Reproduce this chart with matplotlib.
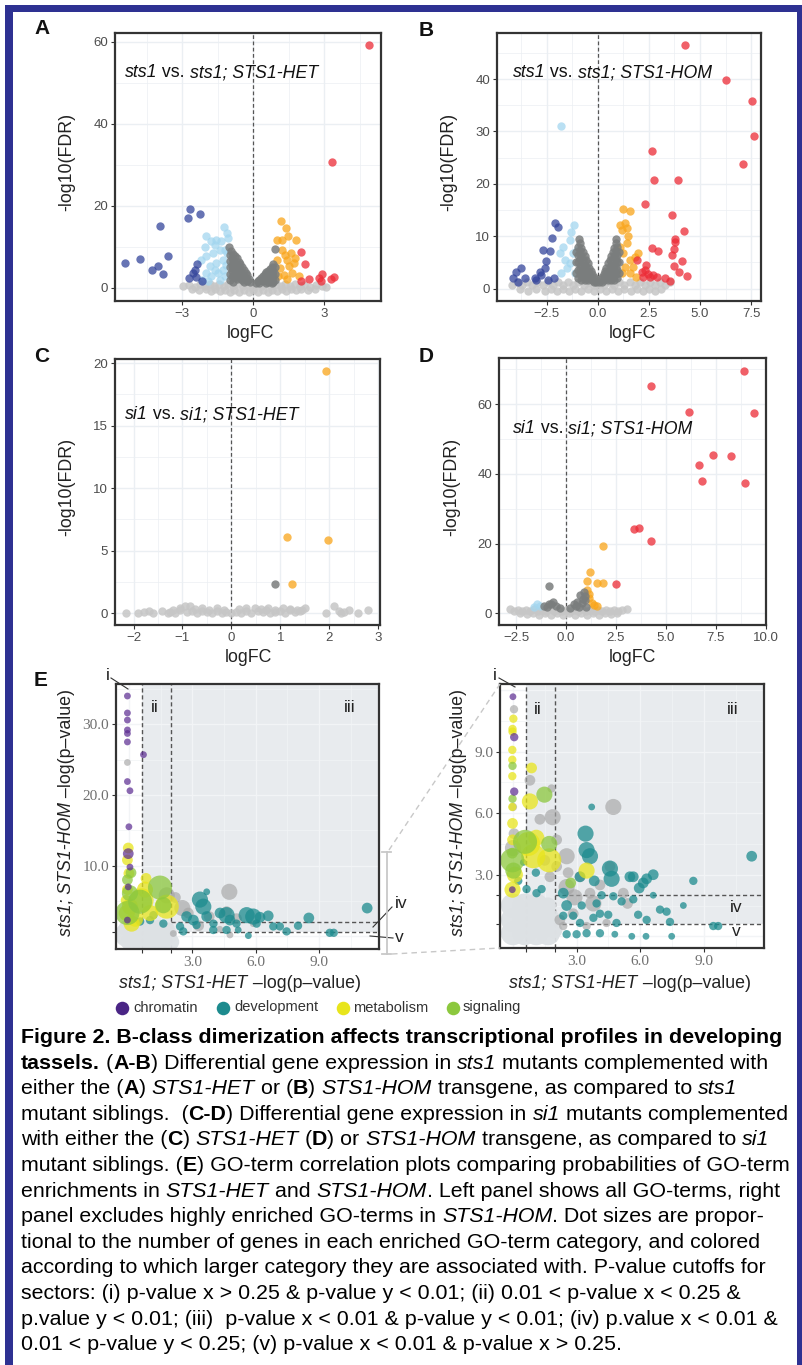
import matplotlib
matplotlib.use("Agg")
import matplotlib.pyplot as plt
from matplotlib.patches import Rectangle

W, H = 803, 1365
SANS = "Liberation Sans"
SERIF = "Liberation Serif"
plt.rcParams["font.family"] = [SANS, "DejaVu Sans"]

# ---------------- volcano data (logFC, -log10 FDR) ----------------
A_LTGRAY = [(-2.95, 0.4), (-2.7, 0.8), (-2.45, 0.3), (-2.25, 0.9), (-2.05, 0.5), (-1.85, 1.0),
            (-1.65, 0.4), (-1.45, 0.9), (-1.25, 0.5), (-1.05, 1.0), (-0.85, 0.4), (-0.65, 0.9),
            (-0.45, 0.5), (-0.25, 0.8), (-0.05, 0.3), (0.15, 0.7), (0.35, 0.4), (0.55, 0.9),
            (0.75, 0.5), (0.95, 1.0), (1.15, 0.4), (1.35, 0.9), (1.55, 0.5), (1.75, 1.0), (1.95, 0.4),
            (2.15, 0.8), (2.4, 0.3), (2.65, 0.7), (2.9, 0.4), (3.05, 0.2),
            (-2.6, -0.3), (-2.3, -0.5), (-2.0, -0.2), (-1.8, -0.7), (-1.6, -0.3), (-1.4, -0.8),
            (-1.2, -0.4), (-1.0, -0.9), (-0.8, -0.5), (-0.6, -1.0), (-0.4, -0.5), (-0.2, -1.0),
            (0.0, -0.6), (0.2, -1.0), (0.4, -0.5), (0.6, -0.9), (0.8, -0.4), (1.0, -0.8), (1.2, -0.3),
            (1.4, -0.7), (1.6, -0.3), (1.8, -0.6), (2.0, -0.2), (2.3, -0.4), (2.6, -0.2)]
A_DKGRAY = [(-1.02, 9.9), (-1.0, 8.0), (-1.0, 6.5), (-1.0, 5.0), (-1.0, 3.5), (-1.0, 2.0), (-0.85, 8.3),
            (-0.85, 6.5), (-0.85, 4.8), (-0.85, 3.0), (-0.85, 1.5), (-0.7, 7.4), (-0.7, 5.6), (-0.7, 3.8),
            (-0.7, 2.2), (-0.55, 5.9), (-0.55, 4.2), (-0.55, 2.4), (-0.4, 4.5), (-0.4, 2.9), (-0.4, 1.4),
            (-0.25, 3.2), (-0.25, 1.6), (-0.12, 1.4), (-0.95, 9.0), (-0.92, 7.2), (-0.92, 5.7),
            (-0.92, 4.2), (-0.92, 2.7), (-0.78, 7.9), (-0.78, 6.0), (-0.78, 4.3), (-0.78, 2.6),
            (-0.62, 6.4), (-0.62, 4.6), (-0.62, 3.0), (-0.48, 5.0), (-0.48, 3.3), (-0.48, 1.9),
            (-0.32, 3.7), (-0.32, 2.2), (-0.18, 2.3),
            (0.12, 1.2), (0.25, 2.0), (0.25, 1.2), (0.4, 3.0), (0.4, 1.6), (0.55, 3.8), (0.55, 2.4),
            (0.55, 1.2), (0.7, 4.6), (0.7, 3.2), (0.7, 1.8), (0.85, 5.8), (0.85, 4.2), (0.85, 2.8),
            (0.85, 1.4), (0.92, 9.5), (0.18, 1.6), (0.32, 2.5), (0.48, 3.4), (0.48, 2.0), (0.62, 4.2),
            (0.62, 2.8), (0.78, 5.2), (0.78, 3.6), (0.78, 2.2), (0.9, 5.0), (0.9, 3.5), (0.9, 2.0),
            (0.62, 1.5), (0.78, 1.3)]
A_LTBLUE = [(-1.99, 12.7), (-1.77, 11.4), (-1.56, 11.8), (-1.23, 14.8), (-1.13, 13.4), (-1.06, 12.2),
            (-1.99, 7.7), (-1.70, 8.5), (-1.42, 9.3), (-1.84, 5.3), (-1.56, 6.1), (-1.28, 6.9),
            (-1.77, 2.8), (-1.49, 3.6), (-1.28, 4.5), (-1.99, 3.6), (-2.20, 6.9), (-1.42, 2.0),
            (-1.13, 8.5), (-1.63, 10.5), (-2.06, 10.1), (-1.35, 11.4), (-1.18, 9.3), (-1.2, 3.0),
            (-1.6, 4.5), (-1.9, 1.8), (-2.15, 2.0), (-1.15, 5.5)]
A_DKBLUE = [(-5.42, 6.1), (-4.79, 7.1), (-4.28, 4.3), (-4.04, 5.3), (-3.80, 3.5), (-3.60, 7.7),
            (-3.93, 15.2), (-2.67, 19.2), (-2.74, 17.0), (-2.27, 18.1), (-2.37, 5.8), (-2.45, 4.5),
            (-2.72, 2.4), (-2.41, 2.7), (-2.16, 1.6), (-2.55, 3.6)]
A_ORANGE = [(1.18, 16.2), (1.38, 14.6), (0.99, 11.8), (1.2, 11.8), (1.46, 12.7), (1.79, 11.6),
            (1.59, 8.5), (1.2, 9.3), (0.99, 6.9), (1.42, 6.9), (1.77, 7.3), (1.13, 4.9), (1.49, 5.3),
            (1.28, 3.2), (1.63, 3.6), (1.91, 2.8), (1.06, 2.8), (1.42, 2.2), (1.70, 6.1), (1.35, 8.1)]
A_RED = [(2.03, 8.8), (2.2, 5.8), (2.34, 2.3), (2.03, 1.6), (2.77, 2.4), (2.88, 3.3), (3.26, 2.2),
         (3.42, 2.6), (3.33, 30.8), (4.89, 59.2), (2.84, 1.6)]

B_LTGRAY = [(-4.2, 0.6), (-3.95, 1.2), (-3.7, 0.6), (-3.45, 1.2), (-3.2, 0.6), (-2.95, 1.2),
            (-2.7, 0.6), (-2.45, 1.2), (-2.2, 0.6), (-1.95, 1.2), (-1.7, 0.6), (-1.45, 1.2),
            (-1.2, 0.6), (-0.95, 1.2), (-0.7, 0.6), (-0.45, 1.2), (-0.2, 0.6), (0.05, 0.9),
            (0.3, 0.6), (0.55, 1.2), (0.8, 0.6), (1.05, 1.2), (1.3, 0.6), (1.55, 1.2), (1.8, 0.6),
            (2.05, 1.2), (2.3, 0.6), (2.55, 1.2), (2.8, 0.6), (3.05, 1.2), (3.3, 0.6), (3.55, 1.2),
            (-3.8, -0.1), (-3.4, -0.5), (-3.0, -0.1), (-2.6, -0.5), (-2.3, -0.1), (-2.0, -0.5),
            (-1.7, -0.1), (-1.4, -0.5), (-1.1, -0.1), (-0.8, -0.5), (-0.5, -0.1), (-0.2, -0.5),
            (0.1, -0.1), (0.4, -0.5), (0.7, -0.1), (1.0, -0.5), (1.3, -0.1), (1.6, -0.5), (1.9, -0.1),
            (2.2, -0.5), (2.5, -0.1), (2.8, -0.5), (3.1, -0.1)]
B_DKGRAY = [(-0.93, 9.5), (-0.95, 8.0), (-0.95, 6.5), (-0.95, 5.0), (-0.95, 3.5), (-0.95, 2.0),
            (-1.05, 7.0), (-1.05, 5.0), (-1.05, 3.0), (-0.8, 7.8), (-0.8, 6.2), (-0.8, 4.6),
            (-0.8, 3.0), (-0.8, 1.6), (-0.65, 6.2), (-0.65, 4.6), (-0.65, 3.0), (-0.65, 1.6),
            (-0.5, 4.8), (-0.5, 3.2), (-0.5, 1.6), (-0.35, 3.4), (-0.35, 2.0), (-0.2, 2.2),
            (-0.2, 1.2), (-0.08, 1.2), (-0.88, 8.7), (-0.88, 7.2), (-0.88, 5.7), (-0.88, 4.2),
            (-0.88, 2.7), (-0.72, 7.0), (-0.72, 5.4), (-0.72, 3.8), (-0.72, 2.3), (-0.58, 5.5),
            (-0.58, 3.9), (-0.58, 2.3), (-0.42, 4.0), (-0.42, 2.6), (-0.28, 2.8), (-0.28, 1.6),
            (-0.14, 1.8),
            (0.91, 9.5), (0.95, 8.0), (0.95, 6.5), (0.95, 5.0), (0.95, 3.5), (0.95, 2.0), (1.05, 7.0),
            (1.05, 5.0), (1.05, 3.0), (0.8, 7.8), (0.8, 6.2), (0.8, 4.6), (0.8, 3.0), (0.8, 1.6),
            (0.65, 6.2), (0.65, 4.6), (0.65, 3.0), (0.65, 1.6), (0.5, 4.8), (0.5, 3.2), (0.5, 1.6),
            (0.35, 3.4), (0.35, 2.0), (0.2, 2.2), (0.2, 1.2), (0.08, 1.2), (0.88, 8.7), (0.88, 7.2),
            (0.88, 5.7), (0.88, 4.2), (0.88, 2.7), (0.72, 7.0), (0.72, 5.4), (0.72, 3.8), (0.72, 2.3),
            (0.58, 5.5), (0.58, 3.9), (0.58, 2.3), (0.42, 4.0), (0.42, 2.6), (0.28, 2.8), (0.28, 1.6),
            (0.14, 1.8)]
B_LTBLUE = [(-1.78, 31.1), (-1.16, 12.1), (-1.29, 10.9), (-1.37, 9.3), (-1.86, 6.8), (-1.62, 5.5),
            (-1.53, 3.9), (-1.78, 2.9), (-1.21, 6.8), (-1.37, 4.8), (-1.13, 2.9), (-1.70, 8.0),
            (-1.04, 7.4)]
B_DKBLUE = [(-4.14, 2.0), (-3.98, 3.2), (-3.74, 3.9), (-3.57, 2.1), (-3.90, 1.3), (-3.08, 2.1),
            (-2.84, 3.1), (-2.68, 7.4), (-2.35, 7.2), (-2.51, 5.2), (-2.59, 3.9), (-2.76, 2.6),
            (-2.25, 9.6), (-2.10, 12.5), (-1.94, 11.8), (-2.15, 2.1), (-2.43, 1.7), (-3.0, 1.7)]
B_ORANGE = [(1.21, 15.2), (1.57, 14.9), (1.08, 12.2), (1.32, 12.5), (1.45, 11.5), (1.16, 11.2),
            (1.48, 10.1), (1.44, 8.7), (1.97, 6.8), (1.81, 6.0), (1.57, 5.5), (1.73, 4.2), (1.32, 4.2),
            (1.16, 2.9), (1.57, 2.9), (1.89, 2.3), (1.24, 6.8), (1.08, 8.0)]
B_RED = [(4.26, 46.6), (6.25, 39.9), (7.52, 35.8), (7.63, 29.2), (7.11, 23.8), (2.66, 26.2),
         (2.74, 20.8), (3.90, 20.8), (2.33, 16.1), (3.65, 14.1), (4.23, 11.0), (3.78, 9.5),
         (3.78, 8.9), (3.72, 7.5), (2.66, 7.8), (2.95, 7.2), (3.61, 6.4), (4.11, 5.2), (3.72, 4.4),
         (3.98, 3.1), (4.37, 2.4), (3.28, 2.1), (3.52, 1.5), (2.38, 4.5), (2.30, 3.6), (2.46, 2.8),
         (2.71, 2.6), (2.14, 3.2), (1.93, 5.5), (2.22, 2.3), (2.54, 2.3), (2.87, 2.3)]

C_LTGRAY = [(-2.16, 0.0), (-1.9, 0.05), (-1.78, 0.1), (-1.68, 0.2), (-1.6, 0.05), (-1.42, 0.2),
            (-1.3, 0.0), (-1.25, 0.1), (-1.15, 0.0), (-1.05, 0.3), (-0.95, 0.6), (-0.85, 0.6),
            (-0.9, 0.1), (-0.8, 0.15), (-0.7, 0.05), (-0.6, 0.2), (-0.5, 0.1), (-0.4, 0.05),
            (-0.3, 0.15), (-0.2, 0.05), (-0.1, 0.1), (0.0, 0.05), (0.1, 0.1), (0.2, 0.05), (0.3, 0.15),
            (0.4, 0.05), (0.48, 0.4), (0.55, 0.2), (0.65, 0.1), (0.7, 0.3), (0.8, 0.05), (0.9, 0.1),
            (1.0, 0.2), (1.1, 0.05), (1.2, 0.3), (1.3, 0.1), (1.4, 0.2), (1.45, 0.25), (1.93, 0.0),
            (2.1, 0.55), (2.2, 0.2), (2.25, 0.0), (2.3, 0.1), (2.4, 0.3), (2.6, 0.0), (2.8, 0.3),
            (-1.2, 0.3), (-1.05, 0.4), (-0.75, 0.35), (-0.6, 0.4), (-0.45, 0.3), (-0.3, 0.4),
            (-0.15, 0.3), (0.15, 0.35), (0.3, 0.4), (0.6, 0.35), (0.75, 0.4), (0.9, 0.3), (1.05, 0.4),
            (1.2, 0.35), (1.35, 0.3), (1.5, 0.4)]
C_DKGRAY = [(0.90, 2.35)]
C_ORANGE = [(1.94, 19.4), (1.13, 6.08), (1.97, 5.87), (1.25, 2.35)]

D_LTGRAY = [(-2.78, 1.1), (-2.6, 0.7), (-2.4, 1.0), (-2.2, 0.6), (-2.0, 1.0), (-1.8, 0.6), (-1.6, 1.1),
            (-1.4, 0.6), (-1.2, 1.0), (-1.0, 0.6), (-0.8, 1.1), (-0.6, 0.6), (-0.4, 1.0), (-0.2, 0.6),
            (0.0, 0.9), (0.2, 0.6), (0.4, 1.0), (0.6, 0.6), (0.8, 1.1), (1.0, 0.6), (1.2, 1.0),
            (1.4, 0.6), (1.6, 1.0), (1.8, 0.6), (2.0, 1.0), (2.2, 0.6), (2.4, 1.0), (2.6, 0.6),
            (2.8, 0.9), (3.05, 1.1),
            (-2.28, 0.0), (-1.95, -0.3), (-1.65, 0.0), (-1.35, -0.4), (-1.05, 0.0), (-0.75, -0.4),
            (-0.45, 0.0), (-0.15, -0.5), (0.15, 0.0), (0.45, -0.5), (0.75, 0.0), (1.05, -0.4),
            (1.35, 0.0), (1.65, -0.4), (1.95, 0.0), (2.25, -0.3), (2.55, 0.0)]
D_DKGRAY = [(-0.85, 7.9), (-0.65, 3.3), (-0.87, 2.6), (-1.12, 2.1), (-0.5, 2.0), (-0.3, 1.5),
            (0.88, 6.2), (0.72, 5.3), (0.55, 3.3), (0.38, 2.6), (0.97, 3.8), (0.8, 2.9), (0.2, 1.6),
            (0.65, 1.8), (0.95, 5.0), (1.0, 1.9), (-0.75, 2.8), (-0.95, 1.8), (0.85, 4.2), (0.5, 2.2)]
D_LTBLUE = [(-1.45, 2.6), (-1.28, 2.1), (-1.62, 1.9)]
D_ORANGE = [(1.83, 19.4), (1.2, 11.8), (1.03, 9.4), (1.55, 8.8), (1.85, 8.8), (1.13, 4.3), (1.3, 2.9),
            (1.55, 2.1), (1.05, 6.7), (1.15, 5.4), (1.4, 2.5)]
D_RED = [(8.88, 69.6), (4.25, 65.3), (6.17, 57.7), (9.38, 57.4), (7.33, 45.5), (8.27, 45.0),
         (6.63, 42.6), (6.80, 37.8), (8.97, 37.3), (3.38, 24.2), (3.67, 24.6), (4.25, 20.6),
         (2.52, 8.4)]

# ---------------- GO-term data (HET -log p, HOM -log p, n genes) ----------------
CUT_LO = 0.602   # -log10(0.25)
CUT_HI = 2.0     # -log10(0.01)

EL_NS = [(-0.1, 0.2, 100), (0.35, 0.2, 100), (0.8, 0.2, 100), (1.25, 0.2, 100), (1.7, 0.2, 100),
         (0.0, -0.8, 45), (0.5, -0.8, 45), (1.0, -0.8, 45), (1.5, -0.8, 45), (2.0, -0.8, 45),
         (-0.1, 1.2, 45), (0.4, 1.2, 45), (0.9, 1.2, 45), (1.4, 1.2, 45), (1.9, 1.2, 20)]
EL_GRAY = [(-0.07, 24.6, 8), (4.75, 6.3, 45), (2.53, 4.0, 45), (1.79, 5.8, 45), (4.62, 3.5, 20),
           (5.09, 2.5, 20), (5.88, 1.8, 8), (2.81, 3.3, 20), (2.1, 0.4, 8), (4.78, 0.2, 8),
           (2.2, 5.5, 20), (3.3, 1.5, 20), (4.3, 1.0, 8), (3.8, 2.8, 20)]
EL_DEV = [(3.36, 5.2, 45), (3.52, 4.2, 45), (3.68, 6.3, 8), (2.73, 2.8, 20), (3.05, 2.3, 20),
          (2.42, 1.4, 12), (2.57, 0.7, 12), (3.2, 1.6, 12), (3.68, 2.8, 20), (4.0, 1.8, 12),
          (4.31, 3.3, 20), (4.62, 3.0, 45), (4.78, 2.3, 20), (5.09, 1.8, 12), (5.17, 0.9, 8),
          (5.57, 3.0, 45), (5.88, 2.8, 45), (6.04, 1.8, 12), (6.2, 2.7, 20), (6.59, 2.9, 20),
          (6.83, 1.4, 12), (7.14, 1.4, 12), (7.46, 0.7, 12), (8.0, 1.5, 12), (8.51, 2.6, 20),
          (9.5, 0.5, 12), (9.69, 0.5, 12), (11.27, 4.0, 20), (5.65, 0.1, 8), (4.62, 0.9, 12),
          (3.99, 0.9, 12), (1.63, 1.8, 12), (1.0, 2.3, 12), (0.53, 2.1, 12), (1.16, 3.0, 12)]
EL_META = [(-0.03, 12.5, 20), (-0.07, 10.8, 20), (0.0, 8.9, 20), (-0.07, 6.6, 20), (-0.13, 5.1, 20),
           (0.05, 4.2, 45), (-0.1, 3.3, 45), (0.13, 1.8, 45), (0.81, 8.2, 20), (0.76, 6.6, 45),
           (0.6, 5.1, 100), (1.79, 4.2, 100), (1.0, 3.3, 45), (0.3, 2.5, 45)]
EL_SIGN = [(1.47, 6.9, 100), (0.53, 4.9, 100), (1.63, 4.4, 45), (-0.07, 3.3, 100), (0.05, 6.1, 45),
           (-0.07, 8.0, 20), (0.1, 9.0, 20)]
EL_CHROM = [(-0.07, 34.0, 8), (-0.07, 31.6, 8), (-0.07, 30.6, 8), (-0.07, 29.2, 8), (-0.07, 28.7, 8),
            (-0.07, 27.5, 8), (-0.07, 21.9, 8), (0.05, 20.6, 8), (0.0, 15.5, 8), (0.69, 25.7, 8),
            (-0.03, 11.7, 20), (0.05, 9.8, 8), (-0.03, 7.0, 8), (-0.07, 2.3, 8)]

ER_NS = [(0.0, 0.15, 100), (0.55, 0.15, 100), (1.1, 0.15, 100), (1.65, 0.15, 100),
         (0.0, 0.8, 100), (0.55, 0.8, 100), (1.1, 0.8, 100), (1.65, 0.8, 100),
         (0.0, 1.5, 100), (0.55, 1.5, 100), (1.1, 1.5, 100), (1.65, 1.5, 45), (1.95, 0.3, 45)]
ER_GRAY = [(0.05, 11.06, 12), (0.0, 6.3, 12), (0.8, 7.6, 20), (1.82, 7.2, 12), (1.87, 5.8, 45),
           (1.27, 5.7, 20), (4.73, 6.3, 45), (2.06, 4.7, 20), (2.53, 3.9, 45), (2.06, 3.4, 20),
           (1.74, 2.9, 20), (3.16, 2.9, 20), (3.63, 2.1, 20), (3.79, 1.6, 45), (4.57, 3.4, 20),
           (5.2, 2.1, 20), (2.53, 2.4, 45), (2.21, 0.8, 20), (2.37, 0.5, 12), (2.84, 1.1, 20),
           (3.47, 0.5, 12), (4.41, 0.65, 12), (2.6, 3.1, 20), (1.5, 3.7, 20), (0.0, 4.3, 45),
           (0.05, 5.0, 20), (2.9, 1.9, 45), (4.1, 2.5, 20), (5.4, 1.6, 20)]
ER_DEV = [(3.71, 6.3, 8), (3.42, 5.0, 45), (3.47, 4.2, 45), (3.63, 3.9, 45), (4.57, 3.3, 45),
          (4.65, 2.8, 45), (3.83, 2.7, 20), (3.16, 2.9, 20), (5.51, 2.9, 20), (5.67, 2.9, 20),
          (6.3, 2.8, 20), (6.61, 3.0, 20), (6.14, 2.6, 20), (5.95, 2.35, 20), (8.5, 2.7, 12),
          (11.25, 3.9, 20), (6.61, 2.0, 8), (5.67, 1.8, 12), (4.18, 2.0, 12), (4.73, 1.95, 12),
          (5.12, 1.7, 12), (3.94, 1.6, 12), (3.24, 1.5, 12), (2.37, 2.1, 20), (2.53, 1.5, 20),
          (2.37, 1.0, 12), (2.84, 1.0, 12), (3.16, 0.65, 12), (3.79, 0.9, 12), (4.1, 1.1, 12),
          (4.49, 1.05, 12), (4.88, 0.65, 12), (5.9, 1.05, 12), (6.3, 0.8, 12), (6.93, 1.3, 12),
          (7.24, 1.2, 12), (7.4, 0.7, 12), (8.03, 1.5, 8), (9.44, 0.5, 12), (9.67, 0.5, 12),
          (2.53, 0.1, 12), (3.0, 0.1, 12), (3.47, 0.15, 12), (4.1, 0.15, 12), (4.8, 0.1, 8),
          (5.6, 0.0, 8), (6.27, 0.0, 8), (7.48, 0.0, 8), (1.08, 3.1, 12), (0.49, 3.6, 8),
          (0.25, 2.7, 12), (0.64, 2.3, 12), (1.11, 2.1, 12), (1.35, 2.3, 12)]
ER_META = [(0.02, 10.6, 12), (-0.02, 10.1, 12), (-0.02, 9.97, 12), (-0.03, 9.08, 12),
           (-0.03, 8.6, 12), (-0.03, 7.8, 12), (-0.02, 5.5, 20), (-0.03, 6.3, 12), (0.88, 8.2, 20),
           (0.8, 6.57, 45), (0.72, 4.5, 100), (0.96, 3.9, 100), (1.71, 3.7, 100), (3.47, 3.2, 45),
           (0.09, 3.0, 45), (-0.02, 2.27, 45), (-0.02, 4.7, 20), (1.1, 4.8, 45)]
ER_SIGN = [(-0.02, 8.3, 12), (-0.02, 6.7, 12), (1.48, 6.9, 45), (1.71, 4.5, 45), (0.57, 4.6, 100),
           (-0.03, 3.7, 100), (0.02, 3.2, 45), (-0.03, 4.05, 20), (2.72, 2.6, 20)]
ER_CHROM = [(0.0, 11.67, 8), (0.06, 9.7, 12), (0.06, 7.05, 12), (-0.03, 2.27, 8)]

LEGEND = ["chromatin", "development", "metabolism", "signaling"]

CAPTION = [
    "*Figure 2. B-class dimerization affects transcriptional profiles in developing*",
    "*tassels.* (*A-B*) Differential gene expression in _sts1_ mutants complemented with",
    "either the (*A*) _STS1-HET_ or (*B*) _STS1-HOM_ transgene, as compared to _sts1_",
    "mutant siblings.  (*C-D*) Differential gene expression in _si1_ mutants complemented",
    "with either the (*C*) _STS1-HET_ (*D*) or _STS1-HOM_ transgene, as compared to _si1_",
    "mutant siblings. (*E*) GO-term correlation plots comparing probabilities of GO-term",
    "enrichments in _STS1-HET_ and _STS1-HOM_. Left panel shows all GO-terms, right",
    "panel excludes highly enriched GO-terms in _STS1-HOM_. Dot sizes are propor-",
    "tional to the number of genes in each enriched GO-term category, and colored",
    "according to which larger category they are associated with. P-value cutoffs for",
    "sectors: (i) p-value x > 0.25 & p-value y < 0.01; (ii) 0.01 < p-value x < 0.25 &",
    "p.value y < 0.01; (iii)  p-value x < 0.01 & p-value y < 0.01; (iv) p.value x < 0.01 &",
    "0.01 < p-value y < 0.25; (v) p-value x < 0.01 & p-value x > 0.25.",
]

# ---------------- colours ----------------
DKBLUE, LTBLUE, DKGRAY = "#34459b", "#a3d6ef", "#7a7d7d"
ORANGE, RED, LTGRAY = "#f9a51a", "#ec2b36", "#c6c6c6"
GRID = "#ebeff3"
SHADE = "#e8ebee"
CAT_COL = {"chromatin": "#5a2a90", "development": "#1d8b8e",
           "metabolism": "#e8e51c", "signaling": "#8cc83e"}
LEG_COL = {"chromatin": "#4a2585", "development": "#1d8b8e",
           "metabolism": "#e8e51c", "signaling": "#8cc83e"}

fig = plt.figure(figsize=(W / 100, H / 100), dpi=100)
R = fig.canvas.get_renderer()

ov = fig.add_axes([0, 0, 1, 1])
ov.set_xlim(0, W)
ov.set_ylim(H, 0)
ov.axis("off")
ov.set_zorder(10)


def add_ax(l, t, r, b):
    return fig.add_axes([l / W, 1 - b / H, (r - l) / W, (b - t) / H])


def style(ax, tick_font, tick_size, tick_col):
    ax.tick_params(length=3, width=0.8, color="#333333", labelsize=tick_size,
                   labelcolor=tick_col, pad=2)
    for lab in ax.get_xticklabels() + ax.get_yticklabels():
        lab.set_family(tick_font)
    for sp in ax.spines.values():
        sp.set_color("#333333")
        sp.set_linewidth(1.6)


def volcano(box, xlim, ylim, xt, xtl, yt, xminor, yminor, layers):
    ax = add_ax(*box)
    ax.set_xlim(*xlim)
    ax.set_ylim(*ylim)
    for v in xminor:
        ax.axvline(v, color=GRID, lw=0.5, zorder=0)
    for v in xt:
        ax.axvline(v, color=GRID, lw=1.0, zorder=0)
    for v in yminor:
        ax.axhline(v, color=GRID, lw=0.5, zorder=0)
    for v in yt:
        ax.axhline(v, color=GRID, lw=1.0, zorder=0)
    ax.axvline(0, color="#555555", lw=0.9, ls=(0, (3, 2)), zorder=1)
    for pts, col, a in layers:
        xs, ys = zip(*pts)
        ax.scatter(xs, ys, s=36, color=col, alpha=a, linewidths=0, zorder=2)
    ax.set_xticks(xt, xtl)
    ax.set_yticks(yt, [str(v) for v in yt])
    style(ax, SANS, 9.5, "#4d4d4d")
    return ax


def go_panel(box, ylim, yt, ytl, ymaj, ymin, layers):
    ax = add_ax(*box)
    ax.set_xlim(-0.61, 11.83)
    ax.set_ylim(*ylim)
    ax.add_patch(Rectangle((CUT_LO, CUT_LO), 20, 100, color=SHADE, lw=0, zorder=0))
    for v in [1.5, 4.5, 7.5, 10.5]:
        ax.axvline(v, color="#f2f4f6", lw=0.5, zorder=0.5)
    for v in [0, 3, 6, 9]:
        ax.axvline(v, color="#f2f4f6", lw=1.0, zorder=0.5)
    for v in ymin:
        ax.axhline(v, color="#f2f4f6", lw=0.5, zorder=0.5)
    for v in ymaj:
        ax.axhline(v, color="#f2f4f6", lw=1.0, zorder=0.5)
    dash = dict(color="#555555", lw=1.0, ls=(0, (3, 2)), zorder=1)
    ax.axvline(CUT_LO, **dash)
    ax.axvline(CUT_HI, **dash)
    ax.hlines([CUT_HI, CUT_LO], CUT_HI, 20, **dash)
    for pts, col, a in layers:
        xs, ys, ns = zip(*pts)
        ax.scatter(xs, ys, s=[3 * n for n in ns], color=col, alpha=a, linewidths=0, zorder=2)
    ax.set_xticks([CUT_LO, CUT_HI, 3, 6, 9], ["", "", "3.0", "6.0", "9.0"])
    ax.set_yticks([CUT_LO, CUT_HI] + yt, ["", ""] + ytl)
    style(ax, SERIF, 11, "#707070")
    return ax


_bar = {}


def text_w(s, size, bold, ital, family=SANS):
    kw = dict(fontsize=size, fontweight="bold" if bold else "normal",
              fontstyle="italic" if ital else "normal", family=family)
    key = (size, bold, ital, family)
    if key not in _bar:
        t = ov.text(0, 0, "|", **kw)
        _bar[key] = t.get_window_extent(R).width
        t.remove()
    t = ov.text(0, 0, s + "|", **kw)
    w = t.get_window_extent(R).width - _bar[key]
    t.remove()
    return w


def parse(line):
    runs, buf, bold, ital = [], "", False, False
    for ch in line:
        if ch in "*_":
            if buf:
                runs.append((buf, bold, ital))
                buf = ""
            if ch == "*":
                bold = not bold
            else:
                ital = not ital
        else:
            buf += ch
    if buf:
        runs.append((buf, bold, ital))
    return runs


def rich(x, y, runs, size, color="#111111", rot=0, center=False):
    widths = [text_w(s, size, b, i) for s, b, i in runs]
    if center:
        if rot:
            y += sum(widths) / 2
        else:
            x -= sum(widths) / 2
    for (s, b, i), w in zip(runs, widths):
        ov.text(x, y, s, fontsize=size, fontweight="bold" if b else "normal",
                fontstyle="italic" if i else "normal", color=color, ha="left",
                va="baseline", rotation=rot, rotation_mode="anchor")
        if rot:
            y -= w
        else:
            x += w


# ---------------- volcano panels ----------------
M = "\u2212"
CA = 0.75
volcano((115, 33, 381, 301), (-5.84, 5.39), (-3.17, 62.1), [-3, 0, 3], [M + "3", "0", "3"],
        [0, 20, 40, 60], [-4.5, -1.5, 1.5, 4.5], [10, 30, 50],
        [(A_LTGRAY, LTGRAY, 0.85), (A_LTBLUE, LTBLUE, CA), (A_ORANGE, ORANGE, CA),
         (A_DKGRAY, DKGRAY, 0.85), (A_DKBLUE, DKBLUE, CA), (A_RED, RED, CA)])
volcano((497, 33, 761, 301), (-4.93, 7.98), (-2.36, 48.8), [-2.5, 0, 2.5, 5, 7.5],
        [M + "2.5", "0.0", "2.5", "5.0", "7.5"], [0, 10, 20, 30, 40],
        [-3.75, -1.25, 1.25, 3.75, 6.25], [5, 15, 25, 35, 45],
        [(B_LTGRAY, LTGRAY, 0.85), (B_LTBLUE, LTBLUE, CA), (B_ORANGE, ORANGE, CA),
         (B_DKGRAY, DKGRAY, 0.85), (B_DKBLUE, DKBLUE, CA), (B_RED, RED, CA)])
volcano((115, 359, 380, 625), (-2.38, 3.04), (-0.93, 20.32), [-2, -1, 0, 1, 2, 3],
        [M + "2", M + "1", "0", "1", "2", "3"], [0, 5, 10, 15, 20],
        [-1.5, -0.5, 0.5, 1.5, 2.5], [2.5, 7.5, 12.5, 17.5],
        [(C_LTGRAY, LTGRAY, 0.85), (C_ORANGE, ORANGE, CA), (C_DKGRAY, DKGRAY, 0.85)])
volcano((499, 358, 766, 625), (-3.35, 10.0), (-3.35, 73.2), [-2.5, 0, 2.5, 5, 7.5, 10],
        [M + "2.5", "0.0", "2.5", "5.0", "7.5", "10.0"], [0, 20, 40, 60],
        [-1.25, 1.25, 3.75, 6.25, 8.75], [10, 30, 50, 70],
        [(D_LTGRAY, LTGRAY, 0.85), (D_LTBLUE, LTBLUE, CA), (D_ORANGE, ORANGE, CA),
         (D_DKGRAY, DKGRAY, 0.85), (D_RED, RED, CA)])

for lx, ly, t in [(42, 29, "A"), (426, 30, "B"), (42, 356, "C"), (426, 356, "D"), (41, 681, "E")]:
    ov.text(lx, ly, t, fontsize=15, fontweight="bold", ha="center", va="center", color="#111111")
for lx, ly in [(67, 162), (449, 162), (67, 487), (452, 487)]:
    ov.text(lx, ly, "-log10(FDR)", fontsize=12.8, rotation=90, ha="center", va="center",
            color="#222222")
for lx, ly in [(250, 333), (632, 333), (248, 657), (632, 657)]:
    ov.text(lx, ly, "logFC", fontsize=12.8, ha="center", va="center", color="#222222")

rich(125, 77, [("sts1", 0, 1), (" vs. ", 0, 0), ("sts1; STS1-HET", 0, 1)], 12.8)
rich(513, 77, [("sts1", 0, 1), (" vs. ", 0, 0), ("sts1; STS1-HOM", 0, 1)], 12.8)
rich(125, 419, [("si1", 0, 1), (" vs. ", 0, 0), ("si1; STS1-HET", 0, 1)], 12.8)
rich(513, 433, [("si1", 0, 1), (" vs. ", 0, 0), ("si1; STS1-HOM", 0, 1)], 12.8)

# ---------------- GO-term panels ----------------
NSCOL, GRAYCOL = "#dde1e4", "#a5a5a5"
go_panel((116, 684, 379, 949), (-1.79, 35.7), [10, 20, 30], ["10.0", "20.0", "30.0"],
         [0, 10, 20, 30], [5, 15, 25, 35],
         [(EL_NS, NSCOL, 0.95), (EL_GRAY, GRAYCOL, 0.65), (EL_DEV, CAT_COL["development"], 0.75),
          (EL_META, CAT_COL["metabolism"], 0.75), (EL_SIGN, CAT_COL["signaling"], 0.75),
          (EL_CHROM, CAT_COL["chromatin"], 0.7)])
go_panel((500, 684, 764, 948), (-0.57, 12.29), [3, 6, 9], ["3.0", "6.0", "9.0"],
         [0, 3, 6, 9, 12], [1.5, 4.5, 7.5, 10.5],
         [(ER_NS, NSCOL, 0.95), (ER_GRAY, GRAYCOL, 0.65), (ER_DEV, CAT_COL["development"], 0.75),
          (ER_META, CAT_COL["metabolism"], 0.75), (ER_SIGN, CAT_COL["signaling"], 0.75),
          (ER_CHROM, CAT_COL["chromatin"], 0.7)])

ylab = [("sts1; STS1-HOM", 0, 1), (" \u2013log(p\u2013value)", 0, 0)]
xlab = [("sts1; STS1-HET", 0, 1), (" \u2013log(p\u2013value)", 0, 0)]
rich(71, 812, ylab, 12.8, color="#222222", rot=90, center=True)
rich(463, 812, ylab, 12.8, color="#222222", rot=90, center=True)
rich(240, 988, xlab, 12.8, color="#222222", center=True)
rich(630, 988, xlab, 12.8, color="#222222", center=True)

# sector numerals and pointers
num = dict(fontsize=12.5, ha="center", va="center", color="#222222")
for x, y, t in [(108, 675, "i"), (155, 707, "ii"), (350, 707, "iii"), (401, 903, "iv"),
                (399, 938, "v"), (495, 675, "i"), (538, 709, "ii"), (733, 709, "iii"),
                (736, 907, "iv"), (736, 932, "v")]:
    ov.text(x, y, t, **num)
for (x1, y1), (x2, y2) in [((111, 678), (128, 689)), ((392, 907), (373, 927)),
                           ((393, 938), (370, 936)), ((499, 678), (515, 687))]:
    ov.plot([x1, x2], [y1, y2], color="#333333", lw=0.8)

# zoom bracket linking the panels
bc = "#c8c8c8"
ov.plot([387, 387], [852, 954], color=bc, lw=1.3)
ov.plot([382, 391], [852, 852], color=bc, lw=1.3)
ov.plot([382, 391], [954, 954], color=bc, lw=1.3)
ov.plot([389, 500], [850, 684], color=bc, lw=1.0, ls=(0, (4, 3)))
ov.plot([392, 500], [954, 948], color=bc, lw=1.0, ls=(0, (4, 3)))

# legend
for cx, tx, name in zip([122.5, 223, 343, 453.5], [133, 234, 353, 463], LEGEND):
    ov.scatter([cx], [1007.5], s=95, color=LEG_COL[name], linewidths=0)
    ov.text(tx, 1007.5, name, fontsize=10.5, ha="left", va="center", color="#333333")

# ---------------- caption ----------------
X0 = 21
parsed = [parse(line) for line in CAPTION]
nat10 = [sum(text_w(s, 10, b, i) for s, b, i in runs) for runs in parsed]
csize = 10 * 770 / max(nat10)
for k, runs in enumerate(parsed):
    rich(X0, 1043 + 25.6 * k, runs, csize, color="#000000")

# navy frame
navy = "#2e3192"
for x, y, w, h in [(5, 5, 8, H), (5, 5, W, 7), (797, 5, 10, H)]:
    ov.add_patch(Rectangle((x, y), w, h, color=navy, lw=0, clip_on=False))

fig.savefig("out.png", dpi=100)
print("wrote out.png")
